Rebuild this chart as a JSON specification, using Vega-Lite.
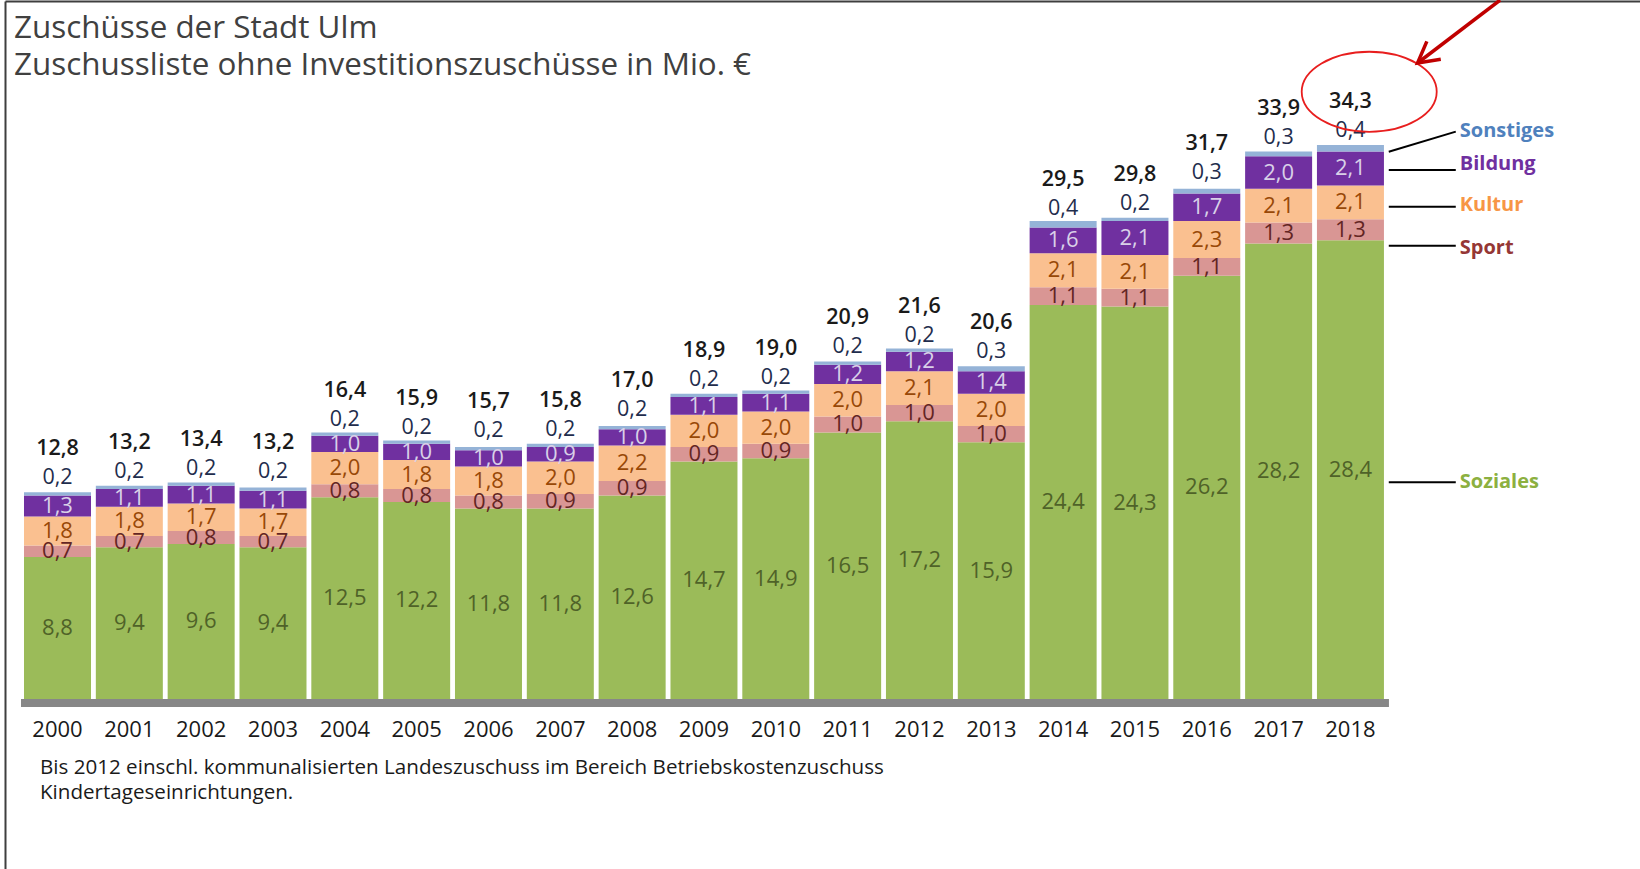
{
  "$schema": "https://vega.github.io/schema/vega-lite/v6.json",
  "width": 1635,
  "height": 868,
  "autosize": {"type": "none"},
  "padding": {"left": 5, "top": 1, "right": 0, "bottom": 0},
  "background": "white",
  "config": {
    "view": {"stroke": null},
    "font": "Open Sans",
    "locale": {"number": {"decimal": ",", "thousands": ".", "grouping": [3], "currency": ["", " €"]}},
    "axis": {"domainColor": "#3f3f3f", "domainWidth": 2, "ticks": false, "labels": false, "grid": false}
  },
  "title": {
    "text": ["Zuschüsse der Stadt Ulm", "Zuschussliste ohne Investitionszuschüsse in Mio. €"],
    "anchor": "start",
    "frame": "group",
    "orient": "top",
    "offset": -83,
    "dx": 9,
    "fontSize": 31.4,
    "lineHeight": 37,
    "fontWeight": "normal",
    "font": "Open Sans",
    "color": "#404040"
  },
  "datasets": {
    "werte": [
      {"Jahr": "2000", "Bereich": "Soziales", "Nr": 1, "Wert": 8.8},
      {"Jahr": "2000", "Bereich": "Sport", "Nr": 2, "Wert": 0.7},
      {"Jahr": "2000", "Bereich": "Kultur", "Nr": 3, "Wert": 1.8},
      {"Jahr": "2000", "Bereich": "Bildung", "Nr": 4, "Wert": 1.3},
      {"Jahr": "2000", "Bereich": "Sonstiges", "Nr": 5, "Wert": 0.2},
      {"Jahr": "2001", "Bereich": "Soziales", "Nr": 1, "Wert": 9.4},
      {"Jahr": "2001", "Bereich": "Sport", "Nr": 2, "Wert": 0.7},
      {"Jahr": "2001", "Bereich": "Kultur", "Nr": 3, "Wert": 1.8},
      {"Jahr": "2001", "Bereich": "Bildung", "Nr": 4, "Wert": 1.1},
      {"Jahr": "2001", "Bereich": "Sonstiges", "Nr": 5, "Wert": 0.2},
      {"Jahr": "2002", "Bereich": "Soziales", "Nr": 1, "Wert": 9.6},
      {"Jahr": "2002", "Bereich": "Sport", "Nr": 2, "Wert": 0.8},
      {"Jahr": "2002", "Bereich": "Kultur", "Nr": 3, "Wert": 1.7},
      {"Jahr": "2002", "Bereich": "Bildung", "Nr": 4, "Wert": 1.1},
      {"Jahr": "2002", "Bereich": "Sonstiges", "Nr": 5, "Wert": 0.2},
      {"Jahr": "2003", "Bereich": "Soziales", "Nr": 1, "Wert": 9.4},
      {"Jahr": "2003", "Bereich": "Sport", "Nr": 2, "Wert": 0.7},
      {"Jahr": "2003", "Bereich": "Kultur", "Nr": 3, "Wert": 1.7},
      {"Jahr": "2003", "Bereich": "Bildung", "Nr": 4, "Wert": 1.1},
      {"Jahr": "2003", "Bereich": "Sonstiges", "Nr": 5, "Wert": 0.2},
      {"Jahr": "2004", "Bereich": "Soziales", "Nr": 1, "Wert": 12.5},
      {"Jahr": "2004", "Bereich": "Sport", "Nr": 2, "Wert": 0.8},
      {"Jahr": "2004", "Bereich": "Kultur", "Nr": 3, "Wert": 2.0},
      {"Jahr": "2004", "Bereich": "Bildung", "Nr": 4, "Wert": 1.0},
      {"Jahr": "2004", "Bereich": "Sonstiges", "Nr": 5, "Wert": 0.2},
      {"Jahr": "2005", "Bereich": "Soziales", "Nr": 1, "Wert": 12.2},
      {"Jahr": "2005", "Bereich": "Sport", "Nr": 2, "Wert": 0.8},
      {"Jahr": "2005", "Bereich": "Kultur", "Nr": 3, "Wert": 1.8},
      {"Jahr": "2005", "Bereich": "Bildung", "Nr": 4, "Wert": 1.0},
      {"Jahr": "2005", "Bereich": "Sonstiges", "Nr": 5, "Wert": 0.2},
      {"Jahr": "2006", "Bereich": "Soziales", "Nr": 1, "Wert": 11.8},
      {"Jahr": "2006", "Bereich": "Sport", "Nr": 2, "Wert": 0.8},
      {"Jahr": "2006", "Bereich": "Kultur", "Nr": 3, "Wert": 1.8},
      {"Jahr": "2006", "Bereich": "Bildung", "Nr": 4, "Wert": 1.0},
      {"Jahr": "2006", "Bereich": "Sonstiges", "Nr": 5, "Wert": 0.2},
      {"Jahr": "2007", "Bereich": "Soziales", "Nr": 1, "Wert": 11.8},
      {"Jahr": "2007", "Bereich": "Sport", "Nr": 2, "Wert": 0.9},
      {"Jahr": "2007", "Bereich": "Kultur", "Nr": 3, "Wert": 2.0},
      {"Jahr": "2007", "Bereich": "Bildung", "Nr": 4, "Wert": 0.9},
      {"Jahr": "2007", "Bereich": "Sonstiges", "Nr": 5, "Wert": 0.2},
      {"Jahr": "2008", "Bereich": "Soziales", "Nr": 1, "Wert": 12.6},
      {"Jahr": "2008", "Bereich": "Sport", "Nr": 2, "Wert": 0.9},
      {"Jahr": "2008", "Bereich": "Kultur", "Nr": 3, "Wert": 2.2},
      {"Jahr": "2008", "Bereich": "Bildung", "Nr": 4, "Wert": 1.0},
      {"Jahr": "2008", "Bereich": "Sonstiges", "Nr": 5, "Wert": 0.2},
      {"Jahr": "2009", "Bereich": "Soziales", "Nr": 1, "Wert": 14.7},
      {"Jahr": "2009", "Bereich": "Sport", "Nr": 2, "Wert": 0.9},
      {"Jahr": "2009", "Bereich": "Kultur", "Nr": 3, "Wert": 2.0},
      {"Jahr": "2009", "Bereich": "Bildung", "Nr": 4, "Wert": 1.1},
      {"Jahr": "2009", "Bereich": "Sonstiges", "Nr": 5, "Wert": 0.2},
      {"Jahr": "2010", "Bereich": "Soziales", "Nr": 1, "Wert": 14.9},
      {"Jahr": "2010", "Bereich": "Sport", "Nr": 2, "Wert": 0.9},
      {"Jahr": "2010", "Bereich": "Kultur", "Nr": 3, "Wert": 2.0},
      {"Jahr": "2010", "Bereich": "Bildung", "Nr": 4, "Wert": 1.1},
      {"Jahr": "2010", "Bereich": "Sonstiges", "Nr": 5, "Wert": 0.2},
      {"Jahr": "2011", "Bereich": "Soziales", "Nr": 1, "Wert": 16.5},
      {"Jahr": "2011", "Bereich": "Sport", "Nr": 2, "Wert": 1.0},
      {"Jahr": "2011", "Bereich": "Kultur", "Nr": 3, "Wert": 2.0},
      {"Jahr": "2011", "Bereich": "Bildung", "Nr": 4, "Wert": 1.2},
      {"Jahr": "2011", "Bereich": "Sonstiges", "Nr": 5, "Wert": 0.2},
      {"Jahr": "2012", "Bereich": "Soziales", "Nr": 1, "Wert": 17.2},
      {"Jahr": "2012", "Bereich": "Sport", "Nr": 2, "Wert": 1.0},
      {"Jahr": "2012", "Bereich": "Kultur", "Nr": 3, "Wert": 2.1},
      {"Jahr": "2012", "Bereich": "Bildung", "Nr": 4, "Wert": 1.2},
      {"Jahr": "2012", "Bereich": "Sonstiges", "Nr": 5, "Wert": 0.2},
      {"Jahr": "2013", "Bereich": "Soziales", "Nr": 1, "Wert": 15.9},
      {"Jahr": "2013", "Bereich": "Sport", "Nr": 2, "Wert": 1.0},
      {"Jahr": "2013", "Bereich": "Kultur", "Nr": 3, "Wert": 2.0},
      {"Jahr": "2013", "Bereich": "Bildung", "Nr": 4, "Wert": 1.4},
      {"Jahr": "2013", "Bereich": "Sonstiges", "Nr": 5, "Wert": 0.3},
      {"Jahr": "2014", "Bereich": "Soziales", "Nr": 1, "Wert": 24.4},
      {"Jahr": "2014", "Bereich": "Sport", "Nr": 2, "Wert": 1.1},
      {"Jahr": "2014", "Bereich": "Kultur", "Nr": 3, "Wert": 2.1},
      {"Jahr": "2014", "Bereich": "Bildung", "Nr": 4, "Wert": 1.6},
      {"Jahr": "2014", "Bereich": "Sonstiges", "Nr": 5, "Wert": 0.4},
      {"Jahr": "2015", "Bereich": "Soziales", "Nr": 1, "Wert": 24.3},
      {"Jahr": "2015", "Bereich": "Sport", "Nr": 2, "Wert": 1.1},
      {"Jahr": "2015", "Bereich": "Kultur", "Nr": 3, "Wert": 2.1},
      {"Jahr": "2015", "Bereich": "Bildung", "Nr": 4, "Wert": 2.1},
      {"Jahr": "2015", "Bereich": "Sonstiges", "Nr": 5, "Wert": 0.2},
      {"Jahr": "2016", "Bereich": "Soziales", "Nr": 1, "Wert": 26.2},
      {"Jahr": "2016", "Bereich": "Sport", "Nr": 2, "Wert": 1.1},
      {"Jahr": "2016", "Bereich": "Kultur", "Nr": 3, "Wert": 2.3},
      {"Jahr": "2016", "Bereich": "Bildung", "Nr": 4, "Wert": 1.7},
      {"Jahr": "2016", "Bereich": "Sonstiges", "Nr": 5, "Wert": 0.3},
      {"Jahr": "2017", "Bereich": "Soziales", "Nr": 1, "Wert": 28.2},
      {"Jahr": "2017", "Bereich": "Sport", "Nr": 2, "Wert": 1.3},
      {"Jahr": "2017", "Bereich": "Kultur", "Nr": 3, "Wert": 2.1},
      {"Jahr": "2017", "Bereich": "Bildung", "Nr": 4, "Wert": 2.0},
      {"Jahr": "2017", "Bereich": "Sonstiges", "Nr": 5, "Wert": 0.3},
      {"Jahr": "2018", "Bereich": "Soziales", "Nr": 1, "Wert": 28.4},
      {"Jahr": "2018", "Bereich": "Sport", "Nr": 2, "Wert": 1.3},
      {"Jahr": "2018", "Bereich": "Kultur", "Nr": 3, "Wert": 2.1},
      {"Jahr": "2018", "Bereich": "Bildung", "Nr": 4, "Wert": 2.1},
      {"Jahr": "2018", "Bereich": "Sonstiges", "Nr": 5, "Wert": 0.4}
    ],
    "summen": [
      {"Jahr": "2000", "Gesamt": 12.8, "Sonstiges": 0.2},
      {"Jahr": "2001", "Gesamt": 13.2, "Sonstiges": 0.2},
      {"Jahr": "2002", "Gesamt": 13.4, "Sonstiges": 0.2},
      {"Jahr": "2003", "Gesamt": 13.2, "Sonstiges": 0.2},
      {"Jahr": "2004", "Gesamt": 16.4, "Sonstiges": 0.2},
      {"Jahr": "2005", "Gesamt": 15.9, "Sonstiges": 0.2},
      {"Jahr": "2006", "Gesamt": 15.7, "Sonstiges": 0.2},
      {"Jahr": "2007", "Gesamt": 15.8, "Sonstiges": 0.2},
      {"Jahr": "2008", "Gesamt": 17.0, "Sonstiges": 0.2},
      {"Jahr": "2009", "Gesamt": 18.9, "Sonstiges": 0.2},
      {"Jahr": "2010", "Gesamt": 19.0, "Sonstiges": 0.2},
      {"Jahr": "2011", "Gesamt": 20.9, "Sonstiges": 0.2},
      {"Jahr": "2012", "Gesamt": 21.6, "Sonstiges": 0.2},
      {"Jahr": "2013", "Gesamt": 20.6, "Sonstiges": 0.3},
      {"Jahr": "2014", "Gesamt": 29.5, "Sonstiges": 0.4},
      {"Jahr": "2015", "Gesamt": 29.8, "Sonstiges": 0.2},
      {"Jahr": "2016", "Gesamt": 31.7, "Sonstiges": 0.3},
      {"Jahr": "2017", "Gesamt": 33.9, "Sonstiges": 0.3},
      {"Jahr": "2018", "Gesamt": 34.3, "Sonstiges": 0.4}
    ],
    "legende": [
      {"Bereich": "Sonstiges", "Linie_von": 33.89, "Linie_bis": 35.13, "Text_y": 35.19},
      {"Bereich": "Bildung", "Linie_von": 32.76, "Linie_bis": 32.76, "Text_y": 33.13},
      {"Bereich": "Kultur", "Linie_von": 30.48, "Linie_bis": 30.48, "Text_y": 30.59},
      {"Bereich": "Sport", "Linie_von": 28.07, "Linie_bis": 28.07, "Text_y": 27.93},
      {"Bereich": "Soziales", "Linie_von": 13.42, "Linie_bis": 13.42, "Text_y": 13.42}
    ]
  },
  "layer": [
    {
      "data": {"name": "werte"},
      "mark": {"type": "bar"},
      "encoding": {
        "x": {
          "field": "Jahr", "type": "nominal", "title": null,
          "scale": {
            "domain": ["2000","2001","2002","2003","2004","2005","2006","2007","2008","2009","2010","2011","2012","2013","2014","2015","2016","2017","2018","Legende","Pfeil"],
            "paddingInner": 0.0672, "paddingOuter": 0.9146, "align": 0.1446, "round": false
          },
          "axis": {"orient": "top", "domain": true, "labels": false, "ticks": false, "title": null}
        },
        "y": {
          "field": "Wert", "type": "quantitative", "stack": "zero", "title": null,
          "scale": {"domain": [-10.526, 43.22], "nice": false, "zero": false},
          "axis": {"orient": "left", "domain": true, "labels": false, "ticks": false, "grid": false, "title": null}
        },
        "color": {
          "field": "Bereich", "type": "nominal", "legend": null,
          "scale": {"domain": ["Soziales","Sport","Kultur","Bildung","Sonstiges"], "range": ["#9BBB59","#D99694","#FAC090","#7030A0","#95B3D7"]}
        },
        "order": {"field": "Nr", "type": "quantitative"}
      }
    },
    {
      "data": {"name": "werte"},
      "transform": [{"filter": "datum.Bereich != 'Sonstiges'"}],
      "mark": {"type": "text", "fontSize": 22, "baseline": "middle"},
      "encoding": {
        "x": {"field": "Jahr", "type": "nominal", "title": null},
        "y": {"field": "Wert", "type": "quantitative", "stack": "zero", "bandPosition": 0.5, "title": null},
        "text": {"field": "Wert", "type": "quantitative", "format": ".1f"},
        "color": {
          "field": "Bereich", "type": "nominal", "legend": null,
          "scale": {"domain": ["Soziales","Sport","Kultur","Bildung"], "range": ["#4F6228","#632523","#984807","#D9D0E8"]}
        },
        "order": {"field": "Nr", "type": "quantitative"}
      }
    },
    {
      "data": {"name": "summen"},
      "mark": {"type": "text", "fontSize": 21.5, "baseline": "middle", "dy": -14, "color": "#1F2D4D"},
      "encoding": {
        "x": {"field": "Jahr", "type": "nominal", "title": null},
        "y": {"field": "Gesamt", "type": "quantitative", "title": null},
        "text": {"field": "Sonstiges", "type": "quantitative", "format": ".1f"}
      }
    },
    {
      "data": {"name": "summen"},
      "mark": {"type": "text", "fontSize": 21.5, "fontWeight": 600, "baseline": "middle", "dy": -43, "color": "#1a1a1a"},
      "encoding": {
        "x": {"field": "Jahr", "type": "nominal", "title": null},
        "y": {"field": "Gesamt", "type": "quantitative", "title": null},
        "text": {"field": "Gesamt", "type": "quantitative", "format": ".1f"}
      }
    },
    {
      "data": {"name": "summen"},
      "mark": {"type": "text", "fontSize": 22, "baseline": "middle", "dy": 31, "color": "#1a1a1a"},
      "encoding": {
        "x": {"field": "Jahr", "type": "nominal", "title": null},
        "y": {"datum": 0, "type": "quantitative"},
        "text": {"field": "Jahr", "type": "nominal"}
      }
    },
    {
      "data": {"values": [{}]},
      "mark": {"type": "rule", "color": "#878787", "strokeWidth": 8, "yOffset": 4, "xOffset": -3, "x2Offset": 5},
      "encoding": {
        "x": {"datum": "2000", "type": "nominal", "bandPosition": 0},
        "x2": {"datum": "2018", "bandPosition": 1},
        "y": {"datum": 0, "type": "quantitative"}
      }
    },
    {
      "data": {"values": [{}]},
      "mark": {"type": "text", "fontSize": 20.6, "align": "left", "baseline": "middle", "lineHeight": 25, "dx": 16, "color": "#1a1a1a"},
      "encoding": {
        "x": {"datum": "2000", "type": "nominal", "bandPosition": 0},
        "y": {"datum": -4.25, "type": "quantitative"},
        "text": {"value": ["Bis 2012 einschl. kommunalisierten Landeszuschuss im Bereich Betriebskostenzuschuss", "Kindertageseinrichtungen."]}
      }
    },
    {
      "data": {"name": "legende"},
      "mark": {"type": "rule", "color": "#000000", "strokeWidth": 2},
      "encoding": {
        "x": {"datum": "Legende", "type": "nominal", "bandPosition": 0},
        "x2": {"datum": "Legende", "bandPosition": 1},
        "y": {"field": "Linie_von", "type": "quantitative", "title": null},
        "y2": {"field": "Linie_bis"}
      }
    },
    {
      "data": {"name": "legende"},
      "mark": {"type": "text", "fontSize": 20, "fontWeight": "bold", "align": "left", "baseline": "middle", "dx": 4},
      "encoding": {
        "x": {"datum": "Legende", "type": "nominal", "bandPosition": 1},
        "y": {"field": "Text_y", "type": "quantitative", "title": null},
        "text": {"field": "Bereich", "type": "nominal"},
        "color": {
          "field": "Bereich", "type": "nominal", "legend": null,
          "scale": {"domain": ["Sonstiges","Bildung","Kultur","Sport","Soziales"], "range": ["#4F81BD","#7030A0","#F79646","#953735","#8CB040"]}
        }
      }
    },
    {
      "data": {"values": [{}]},
      "mark": {"type": "point", "shape": "M-1,0A1,0.593,0,1,1,1,0A1,0.593,0,1,1,-1,0Z", "size": 18225, "filled": false, "stroke": "#E81E1E", "strokeWidth": 1.8, "opacity": 1},
      "encoding": {
        "x": {"datum": "2018", "type": "nominal", "bandPosition": 0.78},
        "y": {"datum": 37.6, "type": "quantitative"}
      }
    },
    {
      "data": {"values": [{}]},
      "mark": {"type": "rule", "color": "#C00000", "strokeWidth": 3.5},
      "encoding": {
        "x": {"datum": "Pfeil", "type": "nominal", "bandPosition": 0.59},
        "y": {"datum": 43.28, "type": "quantitative"},
        "x2": {"datum": "Legende", "bandPosition": 0.43},
        "y2": {"datum": 39.38}
      }
    },
    {
      "data": {"values": [{}]},
      "mark": {"type": "point", "shape": "M-1.1,2L0,0L1.1,2", "size": 424, "angle": 232, "filled": false, "stroke": "#C00000", "strokeWidth": 3.5, "opacity": 1},
      "encoding": {
        "x": {"datum": "Legende", "type": "nominal", "bandPosition": 0.43},
        "y": {"datum": 39.38, "type": "quantitative"}
      }
    }
  ],
  "resolve": {"scale": {"color": "independent"}}
}
